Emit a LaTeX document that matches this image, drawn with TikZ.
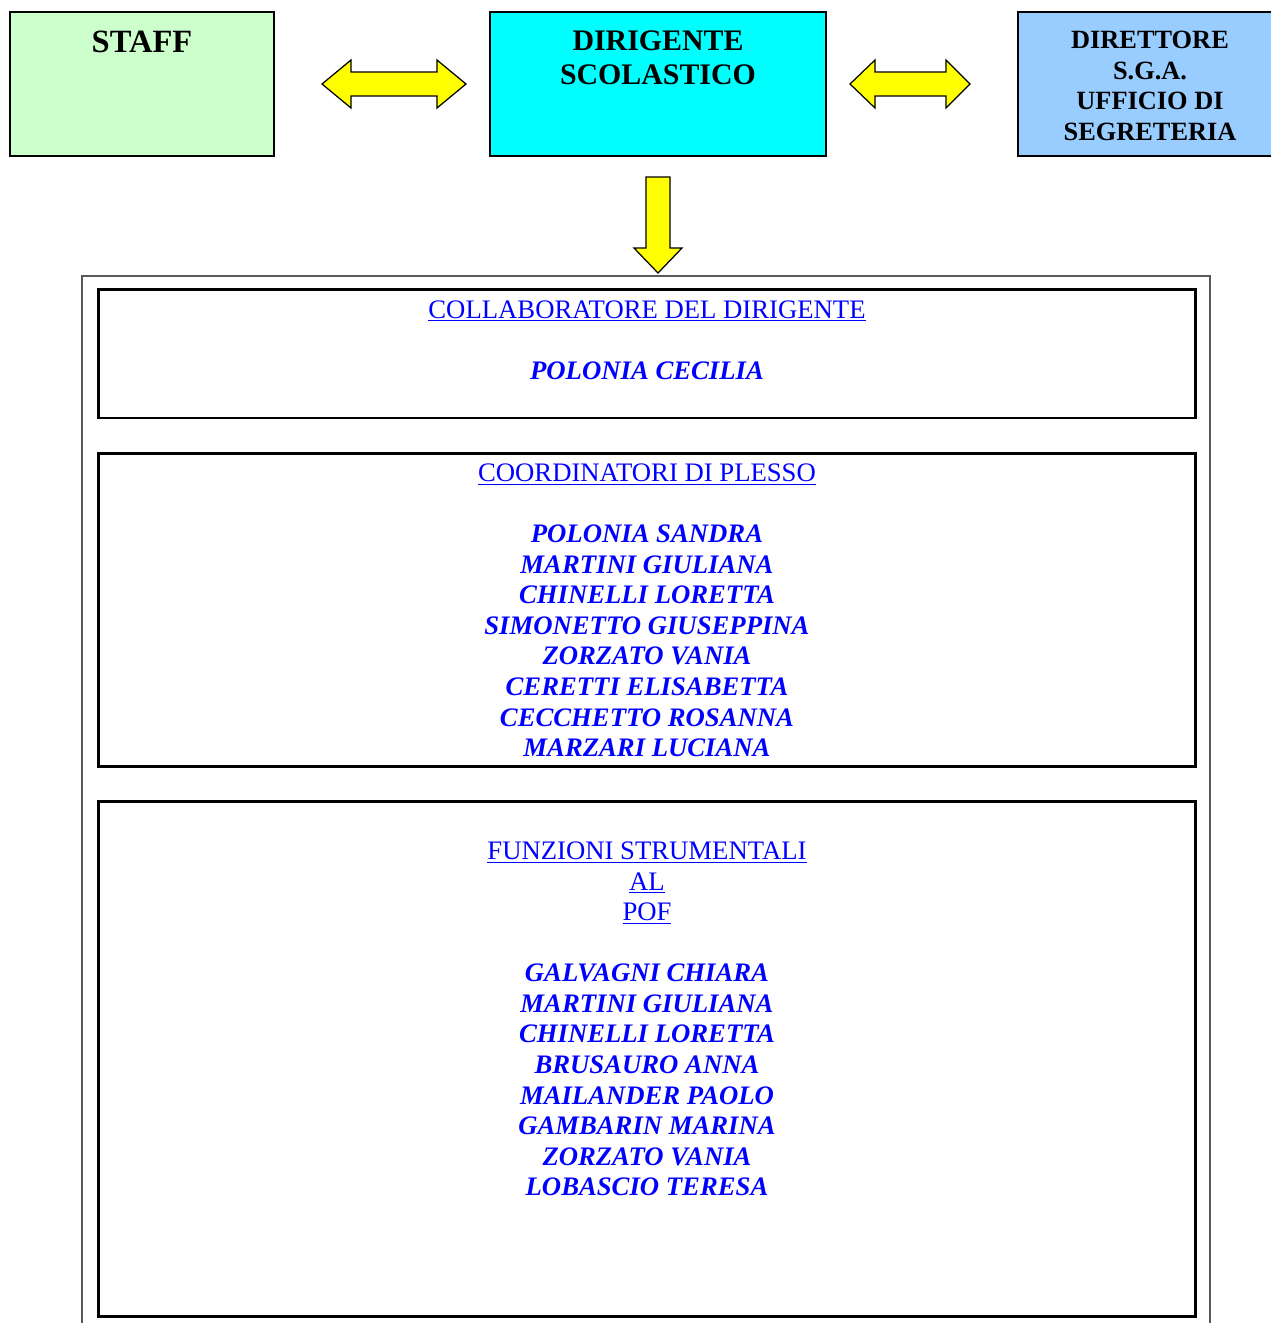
\documentclass[tikz,border=0pt]{standalone}
\usepackage{fontspec}
\setmainfont{Liberation Serif}
\usetikzlibrary{positioning}
\definecolor{staffgreen}{RGB}{204,255,204}
\definecolor{dscyan}{RGB}{0,255,255}
\definecolor{dsgablue}{RGB}{153,204,255}
\definecolor{arrowyellow}{RGB}{255,255,0}
\definecolor{linkblue}{RGB}{0,0,255}
\newcommand\nome[1]{\textbf{\textit{#1}}}
\begin{document}
\begin{tikzpicture}[
    x=0.02cm, y=-0.02cm,
    topbox/.style={draw, line width=0.8pt, minimum height=2.88cm, inner sep=0pt},
    toptxt/.style={anchor=north, inner sep=0pt, align=center, font=\bfseries\fontsize{17}{19.3}\selectfont},
    listbox/.style={draw, line width=1.7pt, minimum width=21.96cm, inner sep=0pt},
    listtxt/.style={anchor=north, inner sep=0pt, align=center, text=linkblue, font=\fontsize{15.2}{17.4}\selectfont},
    blockarrow/.style={draw, line width=0.7pt, fill=arrowyellow, line join=miter}
  ]
  \clip (0,0) rectangle (1271,1323);

  \node[topbox, fill=staffgreen, minimum width=5.28cm] (staff) at (142,84) {};
  \node[topbox, fill=dscyan, minimum width=6.72cm] (ds) at (658,84) {};
  \node[topbox, fill=dsgablue, minimum width=5.28cm] (dsga) at (1150,84) {};
  \node[toptxt, font=\bfseries\fontsize{18.5}{20}\selectfont] (staff-t) at (142,31) {STAFF};
  \node[toptxt] (ds-t) at (658,30) {DIRIGENTE\\SCOLASTICO};
  \node[toptxt, font=\bfseries\fontsize{15}{17.4}\selectfont] (dsga-t) at (1150,31)
    {DIRETTORE\\S.G.A.\\UFFICIO DI\\SEGRETERIA};

  \draw[blockarrow] (322,84) -- (351,60) -- (351,72) -- (437,72) -- (437,60) -- (466,84)
    -- (437,108) -- (437,96) -- (351,96) -- (351,108) -- cycle;
  \draw[blockarrow] (850,84) -- (875,60) -- (875,72) -- (946,72) -- (946,60) -- (970,84)
    -- (946,108) -- (946,96) -- (875,96) -- (875,108) -- cycle;
  \draw[blockarrow] (646,177) -- (670,177) -- (670,248) -- (682,248) -- (658,273)
    -- (634,248) -- (646,248) -- cycle;

  \draw[black!65, line width=0.9pt] (82,276) rectangle (1210,1360);

  \node[listbox, minimum height=2.58cm] (collab) at (647,353.5) {};
  \node[listbox, minimum height=6.28cm] (plessi) at (647,610) {};
  \node[listbox, minimum height=10.32cm] (fs) at (647,1059) {};

  \node[listtxt] (collab-t) at (647,300)
    {\underline{COLLABORATORE DEL DIRIGENTE}\\[17.4pt]
     \nome{POLONIA CECILIA}};
  \node[listtxt] (plessi-t) at (647,463.5)
    {\underline{COORDINATORI DI PLESSO}\\[17.4pt]
     \nome{POLONIA SANDRA}\\ \nome{MARTINI GIULIANA}\\ \nome{CHINELLI LORETTA}\\
     \nome{SIMONETTO GIUSEPPINA}\\ \nome{ZORZATO VANIA}\\ \nome{CERETTI ELISABETTA}\\
     \nome{CECCHETTO ROSANNA}\\ \nome{MARZARI LUCIANA}};
  \node[listtxt] (fs-t) at (647,841.5)
    {\underline{FUNZIONI STRUMENTALI}\\ \underline{AL}\\ \underline{POF}\\[17.4pt]
     \nome{GALVAGNI CHIARA}\\ \nome{MARTINI GIULIANA}\\ \nome{CHINELLI LORETTA}\\
     \nome{BRUSAURO ANNA}\\ \nome{MAILANDER PAOLO}\\ \nome{GAMBARIN MARINA}\\
     \nome{ZORZATO VANIA}\\ \nome{LOBASCIO TERESA}};
\end{tikzpicture}
\end{document}
